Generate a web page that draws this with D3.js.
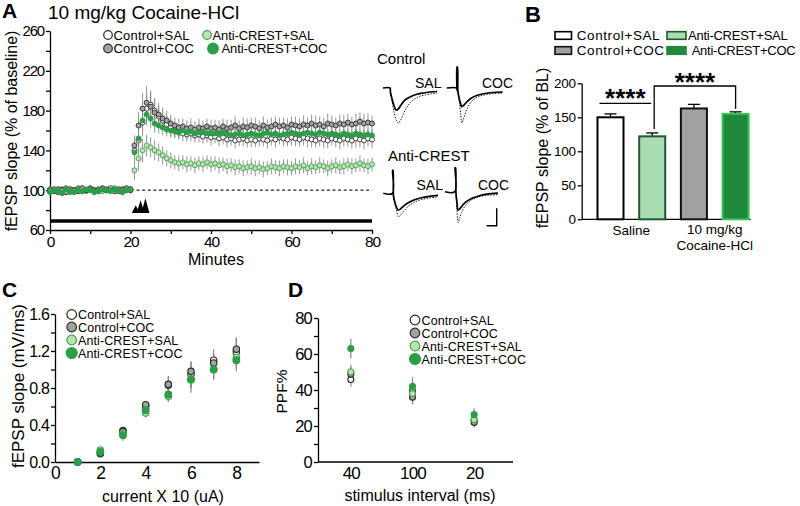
<!DOCTYPE html>
<html><head><meta charset="utf-8">
<script src="https://cdn.jsdelivr.net/npm/d3@7"></script>
<style>
body{margin:0;background:#fff;}
svg text{font-family:"Liberation Sans",Arial,sans-serif;fill:#000;}
</style></head><body>
<svg id="c" width="800" height="506"></svg>
<script>
// ---------------- DATA ----------------
const groups = ["Control+SAL","Control+COC","Anti-CREST+SAL","Anti-CREST+COC"];
const groupKeys = ["CS","CC","AS","AC"];

// Panel A: time course (minutes) and % of baseline
const minutes = [0,1,2,3,4,5,6,7,8,9,10,11,12,13,14,15,16,17,18,19,20,21,22,23,24,25,26,27,28,29,30,31,32,33,34,35,36,37,38,39,40,41,42,43,44,45,46,47,48,49,50,51,52,53,54,55,56,57,58,59,60,61,62,63,64,65,66,67,68,69,70,71,72,73,74,75,76,77,78,79,80];
const timeCS = [99,101,98,100,102,99,100,101,99,100,102,100,99,101,100,102,100,99,101,100,101,
 140,150,168,182,186,180,174,170,166,163,160,158,157,156,157,155,156,154,155,153,154,152,153,151,152,150,151,152,150,151,
 150,152,151,150,152,151,153,152,151,153,152,151,153,152,151,150,152,151,150,152,151,150,152,151,150,152,151,150,152,151];
const timeCC = [100,99,101,100,98,101,100,99,102,100,101,99,100,102,101,100,99,101,100,102,100,
 145,165,182,188,184,178,176,172,170,167,165,163,164,162,163,161,163,162,164,162,163,161,164,162,163,165,162,164,163,165,
 164,162,165,163,164,166,164,165,163,166,165,164,166,165,167,165,166,164,167,166,165,167,166,168,166,167,169,167,168,167];
const timeAS = [101,100,99,101,100,98,100,102,100,99,101,100,101,99,100,101,102,100,99,101,100,
 120,132,140,145,143,140,138,135,132,130,128,127,128,126,127,125,127,126,128,126,127,125,126,124,125,123,124,122,123,124,
 122,123,121,122,124,123,122,124,123,122,124,123,125,122,124,123,125,124,122,124,125,123,124,126,124,125,127,125,124,126];
const timeAC = [98,100,99,97,101,99,98,100,99,101,100,98,99,101,100,99,101,100,98,100,101,
 138,152,170,176,172,167,165,163,161,160,159,158,160,158,159,157,158,159,157,158,157,156,158,157,155,156,157,155,156,157,
 156,155,157,158,156,157,155,156,157,158,157,156,157,158,157,156,158,157,156,157,156,155,157,156,155,157,156,155,156,155];
const errCS = [2,3,2,3,2,2,3,2,3,2,3,2,2,3,2,3,2,2,3,2,3,
 9,12,14,15,14,13,11,10,9,9,8,7,8,7,8,7,8,7,7,8,7,8,7,8,7,8,7,8,7,8,7,8,7,8,7,8,7,8,7,8,8,7,8,9,8,7,8,9,8,7,8,9,8,7,8,9,8,9,8,9];
const errCC = [3,2,3,2,3,2,3,3,2,3,2,3,2,3,2,3,3,2,3,2,3,
 10,14,16,17,15,13,12,11,10,9,8,9,8,8,9,8,9,8,8,9,8,9,8,9,8,9,8,9,9,8,9,8,9,8,9,8,9,8,9,8,9,8,9,8,9,10,8,9,10,9,8,9,10,9,8,10,9,10,9,8];
const errAS = [2,3,2,3,2,3,2,3,2,2,3,2,3,2,3,2,3,2,3,2,3,
 10,12,12,11,10,10,9,9,8,8,7,8,7,8,7,8,7,8,7,8,7,8,7,8,7,8,7,8,7,8,8,7,8,7,8,7,8,7,8,7,8,7,8,7,8,7,8,7,8,7,8,7,8,7,8,7,8,7,8,7];
const errAC = [3,2,3,2,3,2,3,2,3,2,3,2,3,2,3,2,3,2,3,2,3,
 8,10,11,11,10,9,8,8,7,7,6,6,5,6,5,6,5,6,5,6,5,6,5,6,5,6,5,6,5,6,5,6,5,6,5,6,5,6,5,6,5,6,5,6,5,6,5,6,5,6,5,6,5,6,5,6,5,6,5,6];
const yTicksA = [60,80,100,120,140,160,180,200,220,240,260];
const yLabelsA = [60,100,140,180,220,260];
const xTicksA = [0,10,20,30,40,50,60,70,80];
const xLabelsA = [0,20,40,60,80];
const baselineLevel = 100;
const drugBar = [0,80];
const drugBarLevel = 69;
const tetanusTimes = [21.3,22.5,23.7];
const tetanusTips = [85,90,92];
const tetanusBase = 77;

// Panel A inset traces (ms, mV)
const ctrlSalSolid = [[0,0],[1.75,0],[1.85,-0.4],[2.2,-1.0],[2.7,-1.7],[3.25,-2.2],[3.8,-2.1],[4.5,-1.7],[5.5,-1.2],[6.75,-0.9],[8.25,-0.65],[10,-0.5],[11.75,-0.4],[13.5,-0.35]];
const ctrlSalDot = [[1.85,-0.4],[2.3,-1.4],[2.8,-2.5],[3.4,-3.3],[3.9,-3.5],[4.4,-3.2],[5.1,-2.6],[6,-1.9],[7.25,-1.3],[8.75,-0.9],[10.5,-0.7],[13.5,-0.5]];
const ctrlCocSolid = [[0,0],[2.5,0],[2.55,-0.2],[2.58,2.1],[2.68,2.1],[2.8,-0.3],[3.1,-1.0],[3.5,-1.6],[3.75,-1.87],[4.2,-1.75],[5,-1.4],[6,-1.05],[7.5,-0.75],[9.5,-0.55],[11.5,-0.45],[14,-0.4]];
const ctrlCocDot = [[2.8,-0.3],[3.2,-1.5],[3.5,-2.6],[3.75,-3.5],[4.1,-3.2],[4.6,-2.6],[5.3,-1.9],[6.3,-1.3],[7.75,-0.9],[10,-0.65],[14,-0.5]];
const acSalSolid = [[0,0],[2.3,0],[2.33,2.3],[2.43,2.3],[2.55,-0.3],[2.9,-0.9],[3.3,-1.4],[3.7,-1.67],[4.2,-1.6],[5,-1.3],[6,-1.0],[7.5,-0.7],[9.5,-0.45],[11.5,-0.3],[13.7,-0.2]];
const acSalDot = [[2.55,-0.3],[3,-1.2],[3.4,-1.9],[3.75,-2.35],[4.3,-2.2],[5.1,-1.8],[6.2,-1.3],[7.75,-0.9],[9.75,-0.6],[13.7,-0.35]];
const acCocSolid = [[0,0],[2.5,0],[2.53,2.4],[2.63,2.4],[2.75,-0.2],[3,-1.1],[3.25,-1.83],[3.7,-1.7],[4.4,-1.35],[5.3,-1.0],[6.5,-0.7],[8.25,-0.45],[10.5,-0.25],[13.25,-0.15]];
const acCocDot = [[2.75,-0.2],[2.95,-1.6],[3.15,-2.7],[3.3,-3.1],[3.6,-2.7],[4.1,-2.1],[4.9,-1.5],[6,-1.0],[7.5,-0.65],[9.75,-0.4],[13.25,-0.3]];
const scaleBarMs = 2.5, scaleBarMv = 1.75;

// Panel B: bar chart
const barOrder = ["CS","AS","CC","AC"];
const barValues = {CS:150, AS:122, CC:163, AC:155};
const barErrors = {CS:5, AS:5, CC:6, AC:3};
const yTicksB = [0,50,100,150,200];

// Panel C: input-output
const currents = [1,2,3,4,5,6,7,8];
const ioCS = [0.0,0.09,0.34,0.60,0.83,0.95,1.10,1.19];
const ioCC = [0.0,0.10,0.33,0.62,0.84,0.98,1.07,1.22];
const ioAS = [0.0,0.13,0.31,0.53,0.71,0.90,1.00,1.13];
const ioAC = [0.0,0.11,0.29,0.56,0.73,0.89,1.00,1.10];
const ioErrCS = [0,0.01,0.03,0.05,0.10,0.14,0.12,0.15];
const ioErrCC = [0,0.01,0.03,0.04,0.08,0.10,0.10,0.13];
const ioErrAS = [0,0.01,0.03,0.05,0.06,0.10,0.10,0.12];
const ioErrAC = [0,0.01,0.06,0.07,0.07,0.14,0.11,0.12];
const yTicksC = [0,0.2,0.4,0.6,0.8,1.0,1.2,1.4,1.6];
const xTicksC = [0,2,4,6,8];

// Panel D: paired-pulse facilitation
const intervals = ["40","100","20"];
const ppfCS = [45.8,39.4,23.0];
const ppfCC = [48.7,36.0,22.0];
const ppfAS = [50.0,38.0,23.5];
const ppfAC = [63.0,42.0,26.3];
const ppfErrCS = [4,4,3];
const ppfErrCC = [4,4,3];
const ppfErrAS = [4,4,3];
const ppfErrAC = [5.5,5,3.5];
const yTicksD = [0,10,20,30,40,50,60,70,80];

// ---------------- STYLE ----------------
const fills = {CS:"#ffffff", CC:"#a3a3a3", AS:"#b9e3b5", AC:"#2b9e48"};
const strokes = {CS:"#2a2a2a", CC:"#2a2a2a", AS:"#4b9e52", AC:"#2b9e48"};
const FONT = '"Liberation Sans",Arial,sans-serif';

const svg = d3.select("#c");

function styleAxis(g, fs, ls){
  g.attr("font-family", FONT).attr("font-size", fs);
  g.selectAll("path,line").attr("stroke","#000").attr("stroke-width",1.3);
  g.selectAll("text").attr("fill","#000").attr("letter-spacing", ls||0);
}
function txt(x,y,s,fs,opts){
  opts = opts||{};
  const t = svg.append("text").attr("x",x).attr("y",y).attr("font-size",fs).text(s);
  if(opts.anchor) t.attr("text-anchor",opts.anchor);
  if(opts.weight) t.attr("font-weight",opts.weight);
  if(opts.ls!==undefined) t.attr("letter-spacing",opts.ls);
  if(opts.rot) t.attr("transform",`rotate(-90,${x},${y})`);
  return t;
}

// ================= PANEL A =================
const xA = d3.scaleLinear().domain([0,80]).range([50,372]);
const yA = d3.scaleLinear().domain([60,260]).range([230,31]);
txt(2,18,"A",21,{weight:"bold"});
txt(48,18.5,"10 mg/kg Cocaine-HCl",19);

const gAy = svg.append("g").attr("transform","translate(50,0)")
  .call(d3.axisLeft(yA).tickValues(yTicksA).tickFormat(d=>yLabelsA.includes(d)?d:"").tickSize(4).tickSizeOuter(0).tickPadding(2));
styleAxis(gAy,15,-1.2);
const gAx = svg.append("g").attr("transform","translate(0,230)")
  .call(d3.axisBottom(xA).tickValues(xTicksA).tickFormat(d=>xLabelsA.includes(d)?d:"").tickSize(4).tickSizeOuter(0).tickPadding(1.5));
styleAxis(gAx,15.5,-1.2);
txt(16.5,131,"fEPSP slope (% of baseline)",16,{anchor:"middle",rot:true});
txt(216,264.5,"Minutes",16,{anchor:"middle"});

// drug bar
svg.append("line").attr("x1",xA(drugBar[0])).attr("x2",xA(drugBar[1]))
  .attr("y1",yA(drugBarLevel)).attr("y2",yA(drugBarLevel)).attr("stroke","#000").attr("stroke-width",3.6);
// dashed baseline
svg.append("line").attr("x1",xA(21.5)).attr("x2",xA(80)).attr("y1",yA(baselineLevel)).attr("y2",yA(baselineLevel))
  .attr("stroke","#222").attr("stroke-width",1.2).attr("stroke-dasharray","3,2.6");
// tetanus triangles
tetanusTimes.forEach((t,i)=>{
  const x = xA(t), yb = yA(tetanusBase), yt = yA(tetanusTips[i]);
  svg.append("path").attr("d",`M${x-4},${yb}L${x},${yt}L${x+4},${yb}Z`).attr("fill","#000");
});

const seriesA = {CS:[timeCS,errCS], CC:[timeCC,errCC], AS:[timeAS,errAS], AC:[timeAC,errAC]};
const drawOrderA = ["AS","CS","CC","AC"];
const gAe = svg.append("g");
drawOrderA.forEach(k=>{
  const [v,e] = seriesA[k];
  gAe.selectAll(null).data(minutes).enter().append("line")
    .attr("x1",(d)=>xA(d)).attr("x2",(d)=>xA(d))
    .attr("y1",(d,i)=>yA(v[i]+e[i])).attr("y2",(d,i)=>yA(v[i]-e[i]))
    .attr("stroke","#8a8a8a").attr("stroke-width",0.9);
});
drawOrderA.forEach(k=>{
  const [v] = seriesA[k];
  svg.append("g").selectAll("circle").data(minutes).enter().append("circle")
    .attr("cx",d=>xA(d)).attr("cy",(d,i)=>yA(v[i])).attr("r",2.5)
    .attr("fill",fills[k]).attr("stroke",strokes[k]).attr("stroke-width",0.9);
});

// legend A
const legA = [
  {k:"CS",cx:108,cy:35,r:4.3,tx:113.5},
  {k:"CC",cx:108,cy:48.5,r:4.3,tx:113.5},
  {k:"AS",cx:207,cy:35,r:4.3,tx:212.5},
  {k:"AC",cx:213,cy:48.5,r:5.3,tx:221.5}
];
legA.forEach(l=>{
  svg.append("circle").attr("cx",l.cx).attr("cy",l.cy).attr("r",l.r).attr("fill",fills[l.k]).attr("stroke",strokes[l.k]).attr("stroke-width",1.2);
  txt(l.tx,l.cy+4.6,groups[groupKeys.indexOf(l.k)],13,{ls:l.k[0]==="A"?-0.1:0.2});
});

// inset traces
const msScale = d3.scaleLinear().domain([0,1]).range([0,4]);
const mvScale = d3.scaleLinear().domain([0,1]).range([0,-10]);
const traceLine = d3.line().x(d=>msScale(d[0])).y(d=>mvScale(d[1])).curve(d3.curveCatmullRom.alpha(0.5));
function trace(ox,oy,solid,dot){
  const g = svg.append("g").attr("transform",`translate(${ox},${oy})`);
  g.append("path").attr("d",traceLine(dot)).attr("fill","none").attr("stroke","#111").attr("stroke-width",1).attr("stroke-dasharray","1.4,1.4");
  g.append("path").attr("d",traceLine(solid)).attr("fill","none").attr("stroke","#000").attr("stroke-width",1.7);
}
txt(377,64,"Control",15);
txt(415,88,"SAL",14);
txt(482,88,"COC",14);
trace(383,88,ctrlSalSolid,ctrlSalDot);
trace(446.7,88,ctrlCocSolid,ctrlCocDot);
txt(388,161,"Anti-CREST",15);
txt(416.5,190,"SAL",14);
txt(478,190,"COC",14);
trace(383.3,193.3,acSalSolid,acSalDot);
trace(445,191.7,acCocSolid,acCocDot);
// scale bar
const sb = svg.append("g").attr("transform","translate(496.7,225.7)");
sb.append("path").attr("d",`M${-msScale(scaleBarMs)},0H0V${mvScale(scaleBarMv)}`).attr("fill","none").attr("stroke","#000").attr("stroke-width",1.4);

// ================= PANEL B =================
txt(525,21.7,"B",22,{weight:"bold"});
const yB = d3.scaleLinear().domain([0,200]).range([219.3,83.3]);
const xB = d3.scaleBand().domain(barOrder).range([580.8,765.3]).paddingInner(0.376).paddingOuter(0.4);
const gBy = svg.append("g").attr("transform","translate(581.7,0)")
  .call(d3.axisLeft(yB).tickValues(yTicksB).tickSize(4).tickSizeOuter(0).tickPadding(2));
styleAxis(gBy,13.5,-0.3);
svg.append("line").attr("x1",581.7).attr("x2",750.7).attr("y1",yB(0)).attr("y2",yB(0)).attr("stroke","#000").attr("stroke-width",1.3);
txt(548,148,"fEPSP slope (% of BL)",16,{anchor:"middle",rot:true});
const barFill = {CS:"#ffffff", AS:"#a9dcb1", CC:"#a1a1a4", AC:"#21893c"};
const barStroke = {CS:"#000", AS:"#1d5a2c", CC:"#111", AC:"#39c258"};
barOrder.forEach(k=>{
  const x0 = xB(k), bw = xB.bandwidth(), cx = x0+bw/2;
  svg.append("line").attr("x1",cx).attr("x2",cx).attr("y1",yB(barValues[k])).attr("y2",yB(barValues[k]+barErrors[k])).attr("stroke","#000").attr("stroke-width",1.3);
  svg.append("line").attr("x1",cx-6).attr("x2",cx+6).attr("y1",yB(barValues[k]+barErrors[k])).attr("y2",yB(barValues[k]+barErrors[k])).attr("stroke","#000").attr("stroke-width",1.3);
  svg.append("rect").attr("x",x0).attr("y",yB(barValues[k])).attr("width",bw).attr("height",yB(0)-yB(barValues[k]))
    .attr("fill",barFill[k]).attr("stroke",barStroke[k]).attr("stroke-width",2);
});
const salMid = (xB("CS")+xB("AS")+xB.bandwidth())/2;
const cocMid = (xB("CC")+xB("AC")+xB.bandwidth())/2;
txt(salMid,235,"Saline",13.5,{anchor:"middle"});
txt(cocMid,233.5,"10 mg/kg",13.5,{anchor:"middle"});
txt(cocMid,250,"Cocaine-HCl",13.5,{anchor:"middle"});
// significance
const lx1 = xB("CS")+2, lx2 = xB("AS")+xB.bandwidth()/2-1;
svg.append("line").attr("x1",lx1).attr("x2",lx2).attr("y1",103.3).attr("y2",103.3).attr("stroke","#000").attr("stroke-width",1.3);
txt((lx1+lx2)/2,107,"****",26,{anchor:"middle",weight:"bold",ls:0});
const rx1 = xB("AS")+xB.bandwidth()/2+2, rx2 = xB("AC")+xB.bandwidth()/2;
svg.append("path").attr("d",`M${rx1},${yB(barValues.AS+barErrors.AS)-4}V86H${rx2}V${yB(barValues.AC+barErrors.AC)-3}`)
  .attr("fill","none").attr("stroke","#000").attr("stroke-width",1.3);
txt((rx1+rx2)/2,91,"****",26,{anchor:"middle",weight:"bold",ls:0});
// legend B
const legB = [
  {k:"CS",x:555,y:31.7,tx:576.7,ty:40.3},
  {k:"CC",x:555,y:46.7,tx:576.7,ty:54.5},
  {k:"AS",x:667,y:31.7,tx:688,ty:40.3},
  {k:"AC",x:667,y:46.7,tx:691.7,ty:54.5}
];
legB.forEach(l=>{
  svg.append("rect").attr("x",l.x).attr("y",l.y).attr("width",l.k[0]==="A"?19:16.5).attr("height",7.6)
    .attr("fill",barFill[l.k]).attr("stroke",l.k==="AC"?barFill.AC:barStroke[l.k]).attr("stroke-width",1.6);
  txt(l.tx,l.ty,groups[groupKeys.indexOf(l.k)],l.k[0]==="A"?13:13.5,{ls:l.k[0]==="A"?-0.25:0.6});
});

// ================= PANEL C =================
txt(2,297,"C",21,{weight:"bold"});
const xC = d3.scaleLinear().domain([0,9]).range([55,259]);
const yC = d3.scaleLinear().domain([0,1.6]).range([462,314]);
const gCy = svg.append("g").attr("transform","translate(55,0)")
  .call(d3.axisLeft(yC).tickValues(yTicksC).tickFormat(d=>(Math.round(d*10)%4===0)?d3.format(".1f")(d):"").tickSize(4).tickSizeOuter(0).tickPadding(2));
styleAxis(gCy,16,-0.8);
const gCx = svg.append("g").attr("transform","translate(0,462)")
  .call(d3.axisBottom(xC).tickValues(xTicksC).tickSize(0).tickSizeOuter(0).tickPadding(5));
styleAxis(gCx,17.5,-0.5);
txt(23.5,386,"fEPSP slope (mV/ms)",17,{anchor:"middle",rot:true});
txt(163,501.5,"current X 10 (uA)",16,{anchor:"middle"});
const seriesC = {CS:[ioCS,ioErrCS],CC:[ioCC,ioErrCC],AS:[ioAS,ioErrAS],AC:[ioAC,ioErrAC]};
["CS","CC","AS","AC"].forEach(k=>{
  const [v,e]=seriesC[k];
  svg.append("g").selectAll("line").data(currents).enter().append("line")
    .attr("x1",d=>xC(d)).attr("x2",d=>xC(d)).attr("y1",(d,i)=>yC(v[i]+e[i])).attr("y2",(d,i)=>yC(v[i]-e[i]))
    .attr("stroke","#888").attr("stroke-width",1.2);
});
["CS","CC","AS","AC"].forEach(k=>{
  const [v]=seriesC[k];
  svg.append("g").selectAll("circle").data(currents).enter().append("circle")
    .attr("cx",d=>xC(d)).attr("cy",(d,i)=>yC(v[i])).attr("r",k==="AC"?3.4:3.2)
    .attr("fill",fills[k]).attr("stroke",strokes[k]).attr("stroke-width",1.1);
});
const legC = [314.5,327,340,353];
groupKeys.forEach((k,i)=>{
  svg.append("circle").attr("cx",71.7).attr("cy",legC[i]).attr("r",k==="AC"?5.5:4.8).attr("fill",fills[k]).attr("stroke",strokes[k]).attr("stroke-width",1.2);
  txt(78,legC[i]+4.5,groups[i],12.5,{ls:0.1});
});

// ================= PANEL D =================
txt(288,297,"D",21,{weight:"bold"});
const xD = d3.scalePoint().domain(intervals).range([320,505]).padding(0.5);
const yD = d3.scaleLinear().domain([0,80]).range([462,318]);
const gDy = svg.append("g").attr("transform","translate(318,0)")
  .call(d3.axisLeft(yD).tickValues(yTicksD).tickFormat(d=>d%20===0?d:"").tickSize(4).tickSizeOuter(0).tickPadding(2));
styleAxis(gDy,16.5,-0.8);
svg.append("line").attr("x1",318).attr("x2",513).attr("y1",yD(0)).attr("y2",yD(0)).attr("stroke","#000").attr("stroke-width",1.3);
const gDx = svg.append("g").attr("transform","translate(0,462)")
  .call(d3.axisBottom(xD).tickSize(0).tickSizeOuter(0).tickPadding(5));
gDx.select(".domain").remove();
styleAxis(gDx,17,-0.8);
txt(287,391.5,"PPF%",15.5,{anchor:"middle",rot:true});
txt(420,501,"stimulus interval (ms)",16,{anchor:"middle"});
const seriesD = {CS:[ppfCS,ppfErrCS],CC:[ppfCC,ppfErrCC],AS:[ppfAS,ppfErrAS],AC:[ppfAC,ppfErrAC]};
["CS","CC","AS","AC"].forEach(k=>{
  const [v,e]=seriesD[k];
  svg.append("g").selectAll("line").data(intervals).enter().append("line")
    .attr("x1",d=>xD(d)).attr("x2",d=>xD(d)).attr("y1",(d,i)=>yD(v[i]+e[i])).attr("y2",(d,i)=>yD(v[i]-e[i]))
    .attr("stroke","#888").attr("stroke-width",1.2);
});
["CS","CC","AS","AC"].forEach(k=>{
  const [v]=seriesD[k];
  svg.append("g").selectAll("circle").data(intervals).enter().append("circle")
    .attr("cx",d=>xD(d)).attr("cy",(d,i)=>yD(v[i])).attr("r",3)
    .attr("fill",fills[k]).attr("stroke",strokes[k]).attr("stroke-width",1.1);
});
const legD = [320,333,346,359];
groupKeys.forEach((k,i)=>{
  svg.append("circle").attr("cx",415).attr("cy",legD[i]).attr("r",k==="AC"?5.5:4.8).attr("fill",fills[k]).attr("stroke",strokes[k]).attr("stroke-width",1.2);
  txt(421.5,legD[i]+4.5,groups[i],12.5,{ls:0.1});
});
</script>
</body></html>
